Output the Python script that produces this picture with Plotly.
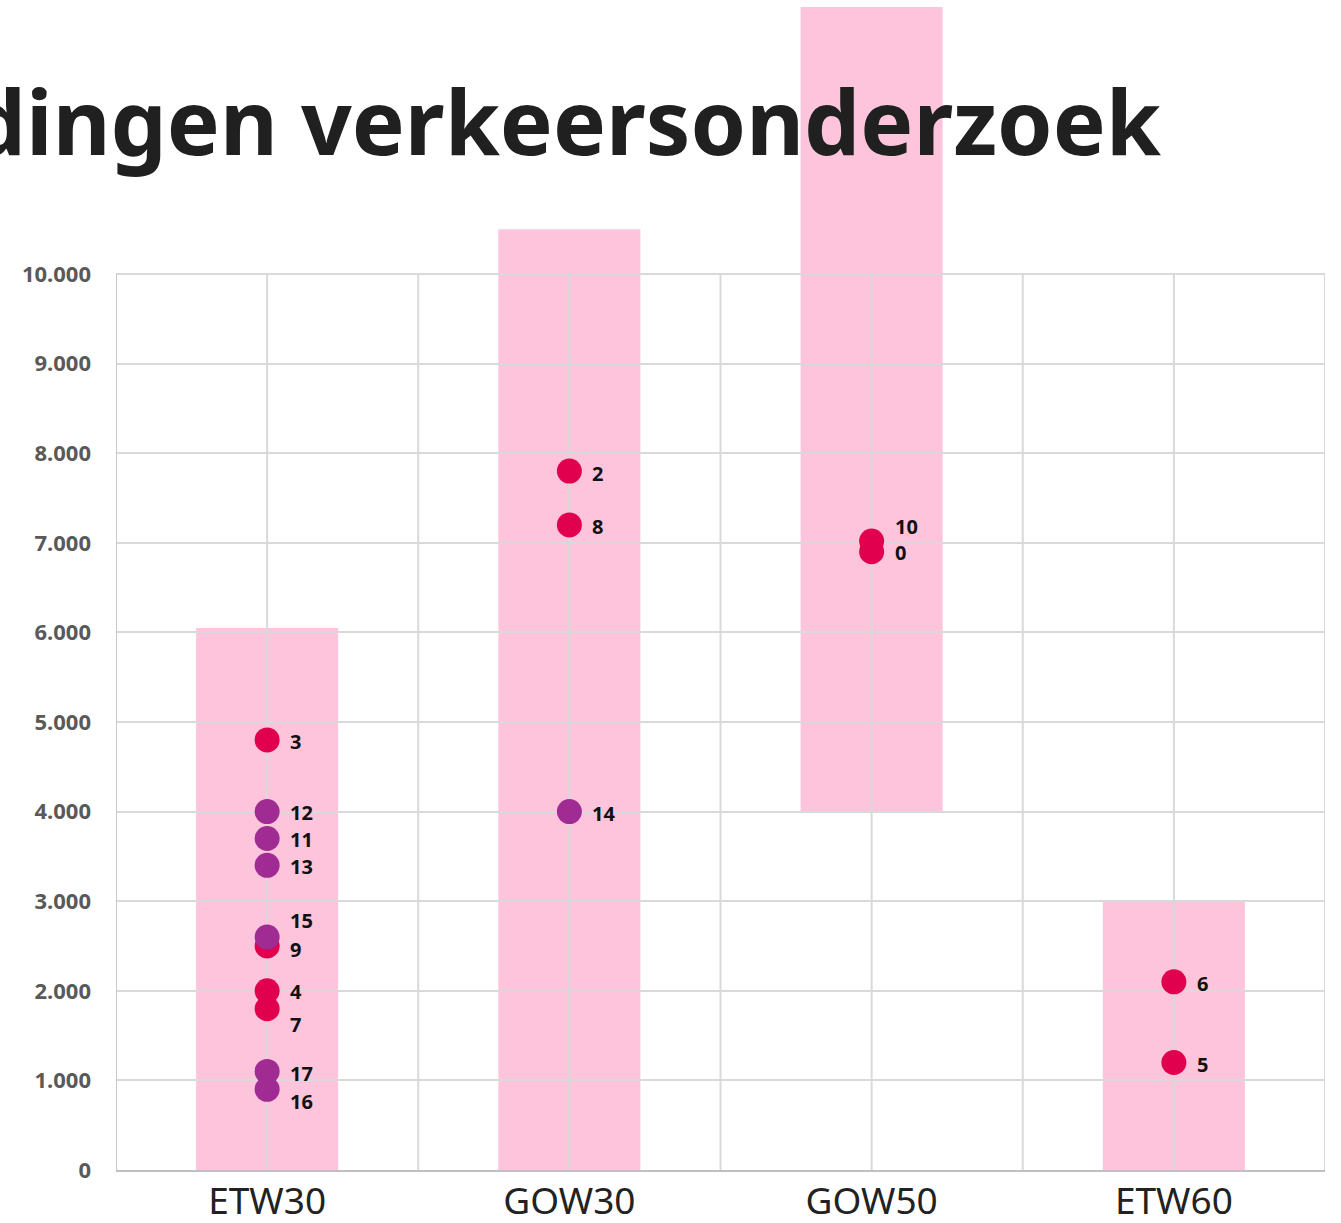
import plotly.graph_objects as go

# ---- data ----
categories = ["ETW30", "GOW30", "GOW50", "ETW60"]
range_low = [0, 0, 4000, 0]
range_high = [6050, 10500, 12980, 3000]

red_cat = ["ETW30", "ETW30", "ETW30", "ETW30", "GOW30", "GOW30", "GOW50", "GOW50", "ETW60", "ETW60"]
red_val = [4800, 2500, 2000, 1800, 7800, 7200, 7020, 6900, 2100, 1200]
red_lbl = ["3", "9", "4", "7", "2", "8", "10", "0", "6", "5"]

purple_cat = ["ETW30", "ETW30", "ETW30", "ETW30", "ETW30", "ETW30", "GOW30"]
purple_val = [4000, 3700, 3400, 2600, 1100, 900, 4000]
purple_lbl = ["12", "11", "13", "15", "17", "16", "14"]

y_ticks = [0, 1000, 2000, 3000, 4000, 5000, 6000, 7000, 8000, 9000, 10000]
title_text = "Bevindingen verkeersonderzoek"

# ---- styles ----
RED = "#E0004D"
PURPLE = "#A02B93"
PINK = "#FDC4DC"
GRID = "#D9D9D9"
label_yshift = {"3": -2, "9": -3, "4": -1, "7": -16, "2": -2, "8": -2, "10": 15, "0": -1,
                "6": -2, "5": -2, "12": -1, "11": -1, "13": -1, "15": 17, "17": -2,
                "16": -12, "14": -2}

idx = {c: i for i, c in enumerate(categories)}
FONT = "Noto Sans"

fig = go.Figure()

shapes = []
for c, lo, hi in zip(categories, range_low, range_high):
    i = idx[c]
    shapes.append(dict(type="rect", xref="x", yref="y", x0=i - 0.235, x1=i + 0.235,
                       y0=lo, y1=hi, fillcolor=PINK, line=dict(width=0), layer="below"))

xs = [k * 0.5 - 0.5 for k in range(9)]
for xv in xs:
    col = "#C8C8C8" if xv == -0.5 else GRID
    shapes.append(dict(type="line", xref="x", yref="y", x0=xv, x1=xv, y0=0, y1=10000,
                       line=dict(color=col, width=2), layer="between"))

fig.add_trace(go.Scatter(
    x=[idx[c] for c in red_cat], y=red_val, mode="markers",
    marker=dict(color=RED, size=25, line=dict(width=0)), hoverinfo="skip", showlegend=False))
fig.add_trace(go.Scatter(
    x=[idx[c] for c in purple_cat], y=purple_val, mode="markers",
    marker=dict(color=PURPLE, size=25, line=dict(width=0)), hoverinfo="skip", showlegend=False))

annotations = []
for cats, vals, lbls in [(red_cat, red_val, red_lbl), (purple_cat, purple_val, purple_lbl)]:
    for c, v, l in zip(cats, vals, lbls):
        annotations.append(dict(x=idx[c], y=v, xref="x", yref="y", text="<b>%s</b>" % l,
                                showarrow=False, xanchor="left", yanchor="middle",
                                xshift=21, yshift=label_yshift[l],
                                font=dict(family=FONT, size=20, color="#111111")))

annotations.append(dict(x=(1164 - 116) / 1209, y=(1170 - 121) / 1170, xref="paper", yref="paper",
                        text="<b>%s</b>" % title_text, showarrow=False,
                        xanchor="right", yanchor="middle",
                        font=dict(family=FONT, size=89, color="#202020")))

fig.update_layout(
    width=1341, height=1223,
    margin=dict(l=116, r=16, t=0, b=53),
    paper_bgcolor="white", plot_bgcolor="white",
    separators=",.",
    shapes=shapes, annotations=annotations,
    xaxis=dict(range=[-0.5, 3.5], tickvals=list(range(len(categories))), ticktext=categories,
               showgrid=False, zeroline=False, showline=True, linecolor="#C0C0C0", linewidth=2,
               ticks="", ticklabelstandoff=-2, automargin=False,
               tickfont=dict(family=FONT, size=37, color="#222222"), fixedrange=True),
    yaxis=dict(range=[0, 13058], tickvals=y_ticks, tickformat=",d",
               showgrid=True, gridcolor=GRID, gridwidth=2, zeroline=False, showline=False,
               ticks="", ticklabelstandoff=24, automargin=False,
               tickfont=dict(family=FONT, size=22, color="#595959", weight="bold"), fixedrange=True),
)

fig.write_html("out.html", config={"displayModeBar": False},
               post_script="document.body.style.margin='0';")
